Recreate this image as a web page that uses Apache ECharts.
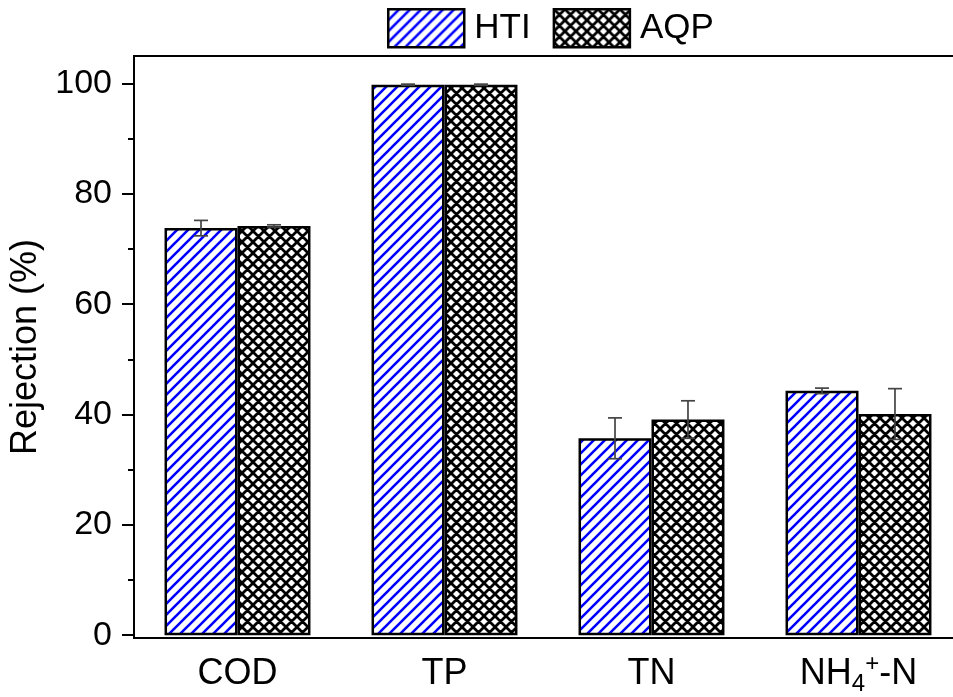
<!DOCTYPE html>
<html>
<head>
<meta charset="utf-8">
<script src="https://cdn.jsdelivr.net/npm/echarts@6/dist/echarts.min.js"></script>
<style>html,body{margin:0;padding:0;background:#fff;}#c{width:953px;height:697px;}</style>
</head>
<body>
<div id="c"></div>
<script>
const categories = ['COD', 'TP', 'TN', 'NH4'];
const htiValues = [73.8, 99.8, 35.7, 44.3];
const htiErrors = [1.4, 0.1, 3.7, 0.5];
const aqpValues = [74.2, 99.8, 39.1, 40.1];
const aqpErrors = [0.2, 0.1, 3.4, 4.6];
const yTicks = [0, 20, 40, 60, 80, 100];
const yMinorTicks = [10, 30, 50, 70, 90];

const FONT = 'Liberation Sans, Arial, Helvetica, sans-serif';
const GAP = 0.295;

function stripeTile() {
  const s = 11, c = document.createElement('canvas');
  c.width = s; c.height = s;
  const g = c.getContext('2d');
  g.fillStyle = '#fff'; g.fillRect(0, 0, s, s);
  g.strokeStyle = '#0000ff'; g.lineWidth = 2.6;
  g.beginPath();
  for (const o of [-s, 0, s]) { g.moveTo(o - 1, s + 1); g.lineTo(o + s + 1, -1); }
  g.stroke();
  return c;
}
function crossTile() {
  const s = 11, c = document.createElement('canvas');
  c.width = s; c.height = s;
  const g = c.getContext('2d');
  g.fillStyle = '#fff'; g.fillRect(0, 0, s, s);
  g.strokeStyle = '#000'; g.lineWidth = 2.8;
  g.beginPath();
  for (const o of [-s, 0, s]) {
    g.moveTo(o - 1, s + 1); g.lineTo(o + s + 1, -1);
    g.moveTo(o - 1, -1); g.lineTo(o + s + 1, s + 1);
  }
  g.stroke();
  return c;
}
const htiFill = { image: stripeTile(), repeat: 'repeat' };
const aqpFill = { image: crossTile(), repeat: 'repeat' };

function errSeries(name, vals, errs, side) {
  return {
    name: name, type: 'custom', z: 10,
    data: vals.map((v, i) => [i, v, errs[i]]),
    encode: { x: 0, y: 1 },
    renderItem: function (params, api) {
      const i = api.value(0), v = api.value(1), e = api.value(2);
      const band = api.size([1, 0])[0];
      const bw = band * (1 - GAP) / 2;
      const top = api.coord([i, v + e]);
      const bot = api.coord([i, v - e]);
      const x = top[0] + side * bw / 2;
      const cw = 7;
      const st = { stroke: '#444', lineWidth: 1.7 };
      return { type: 'group', children: [
        { type: 'line', shape: { x1: x, y1: top[1], x2: x, y2: bot[1] }, style: st },
        { type: 'line', shape: { x1: x - cw, y1: top[1], x2: x + cw, y2: top[1] }, style: st },
        { type: 'line', shape: { x1: x - cw, y1: bot[1], x2: x + cw, y2: bot[1] }, style: st }
      ]};
    }
  };
}

const chart = echarts.init(document.getElementById('c'), null, { renderer: 'canvas' });
chart.setOption({
  animation: false,
  backgroundColor: '#fff',
  textStyle: { fontFamily: FONT, color: '#000' },
  legend: {
    data: ['HTI', 'AQP'], left: 387, top: 8, padding: 0,
    itemWidth: 76, itemHeight: 38, itemGap: 22, icon: 'rect',
    itemStyle: { borderColor: '#000', borderWidth: 2.5 },
    textStyle: { fontSize: 35, fontFamily: FONT, color: '#000', padding: [0, 0, 0, 5] }
  },
  grid: { left: 134, top: 56, height: 582, width: 828, containLabel: false, outerBoundsMode: 'none',
          show: true, borderColor: '#000', borderWidth: 2, backgroundColor: 'transparent' },
  xAxis: {
    type: 'category', data: categories,
    axisLine: { onZero: false, lineStyle: { color: '#000', width: 2 } },
    axisTick: { length: 7, lineStyle: { color: '#000', width: 2 } },
    axisLabel: {
      interval: 0,
      margin: 14, color: '#000', fontSize: 36, fontFamily: FONT, lineHeight: 44,
      formatter: v => v === 'NH4' ? '{a|NH}{b|4}{c|+}{a|-N}' : v,
      rich: {
        a: { fontSize: 36, fontFamily: FONT, color: '#000', lineHeight: 44 },
        b: { fontSize: 24, fontFamily: FONT, color: '#000', lineHeight: 20, verticalAlign: 'bottom' },
        c: { fontSize: 24, fontFamily: FONT, color: '#000', lineHeight: 20, verticalAlign: 'top' }
      }
    }
  },
  yAxis: [{
    type: 'value', min: -0.5, max: 105,
    name: 'Rejection (%)', nameLocation: 'middle', nameGap: 79,
    nameTextStyle: { fontSize: 36, fontFamily: FONT, color: '#000' },
    splitLine: { show: false },
    axisLine: { show: true, lineStyle: { color: '#000', width: 2 } },
    axisTick: { show: true, length: 12, customValues: yTicks, lineStyle: { color: '#000', width: 2 } },
    axisLabel: { margin: 22, fontSize: 34, fontFamily: FONT, color: '#000', customValues: yTicks }
  }, {
    type: 'value', min: -0.5, max: 105, position: 'left',
    splitLine: { show: false },
    axisLine: { show: false },
    axisTick: { show: true, length: 6, customValues: yMinorTicks, lineStyle: { color: '#000', width: 2 } },
    axisLabel: { show: false }
  }],
  series: [
    { name: 'HTI', type: 'bar', data: htiValues, barGap: '0%', barCategoryGap: (GAP * 100) + '%',
      itemStyle: { color: htiFill, borderColor: '#000', borderWidth: 2.5 } },
    { name: 'AQP', type: 'bar', data: aqpValues, barGap: '0%', barCategoryGap: (GAP * 100) + '%',
      itemStyle: { color: aqpFill, borderColor: '#000', borderWidth: 2.5 } },
    errSeries('HTI err', htiValues, htiErrors, -1),
    errSeries('AQP err', aqpValues, aqpErrors, 1)
  ]
});
</script>
</body>
</html>
